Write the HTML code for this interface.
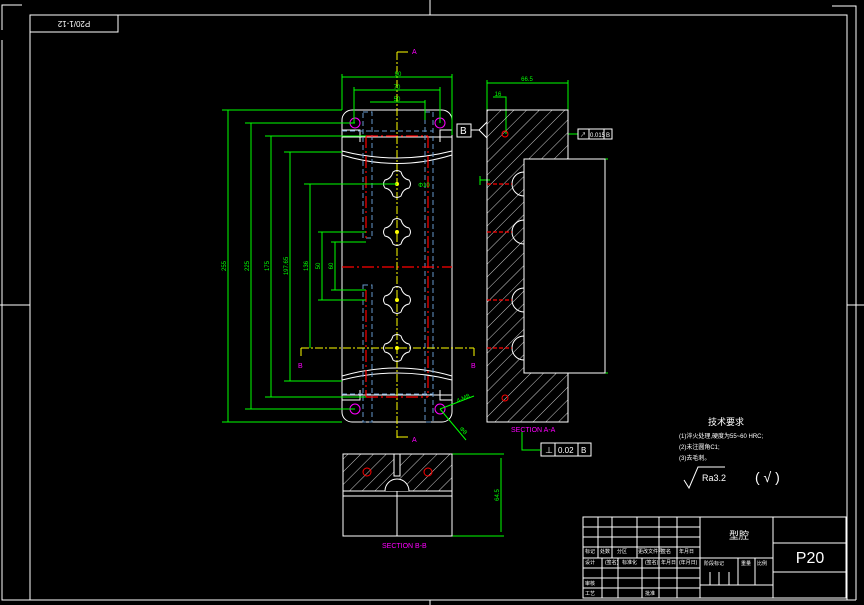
<!DOCTYPE html>
<html><head><meta charset="utf-8"><style>
html,body{margin:0;padding:0;background:#000;}
svg{display:block;}
text{font-family:"Liberation Sans","Noto Sans CJK SC",sans-serif;}
</style></head><body>
<svg width="864" height="605" viewBox="0 0 864 605" xmlns="http://www.w3.org/2000/svg">
<defs>
<pattern id="h" patternUnits="userSpaceOnUse" width="9" height="9" patternTransform="rotate(45)">
<line x1="0" y1="0" x2="0" y2="9" stroke="#fff" stroke-width="0.8"/>
</pattern>
<g id="clover">
<path d="M-4,-12 Q0,-15 4,-12 Q6,-5 12,-4 Q15,0 12,4 Q6,5 4,12 Q0,15 -4,12 Q-6,5 -12,4 Q-15,0 -12,-4 Q-6,-5 -4,-12Z" fill="none" stroke="#fff" stroke-width="1"/>
<circle r="2" fill="#ff0"/>
</g>
</defs>
<rect width="864" height="605" fill="#000"/>
<g stroke="#fff" stroke-width="1" fill="none">
<path d="M2,30 V5 H22"/>
<path d="M832,6 H856 V600"/>
<path d="M2,40 V600 H856"/>
<rect x="30" y="15" width="817" height="585"/>
<rect x="30" y="15" width="88" height="17"/>
<line x1="430" y1="0" x2="430" y2="15"/>
<line x1="430" y1="600" x2="430" y2="605"/>
<line x1="0" y1="305" x2="30" y2="305"/>
<line x1="847" y1="305" x2="864" y2="305"/>
</g>
<text x="74" y="27" font-size="8" fill="#fff" text-anchor="middle" transform="rotate(180 74 24)">P20/1-12</text>

<g stroke="#fff" stroke-width="1" fill="none">
<rect x="342" y="110" width="110" height="312" rx="10"/>
<path d="M342,130 H360 V142 M452,130 H440 V142"/>
<path d="M342,400 H360 V390 M452,400 H440 V390"/>
<path d="M342,137 H452 M342,395 H452"/>
<path d="M342,151 Q397,165 452,151 M342,155 Q397,172 452,155"/>
<path d="M342,380 Q397,366 452,380 M342,376 Q397,360 452,376"/>
</g>
<g stroke="#69c" stroke-width="1" fill="none" stroke-dasharray="5,3">
<rect x="363" y="112" width="9" height="126"/>
<rect x="363" y="285" width="9" height="137"/>
<rect x="425" y="112" width="8" height="310"/>
<line x1="342" y1="131" x2="433" y2="131"/>
<line x1="342" y1="394" x2="433" y2="394"/>
</g>
<g stroke="#f00" stroke-width="1.2" fill="none" stroke-dasharray="12,3,2,3">
<line x1="366" y1="136" x2="366" y2="238"/>
<line x1="366" y1="290" x2="366" y2="397"/>
<line x1="428" y1="136" x2="428" y2="397"/>
<line x1="366" y1="136" x2="428" y2="136"/>
<line x1="366" y1="397" x2="428" y2="397"/>
<line x1="342" y1="267" x2="452" y2="267"/>
</g>
<g stroke="#ff0" stroke-width="1" fill="none" stroke-dasharray="8,2,2,2">
<line x1="397" y1="52" x2="397" y2="440"/>
<line x1="301" y1="348" x2="474" y2="348"/>
</g>
<g stroke="#ff0" stroke-width="1" fill="none">
<path d="M397,52 H408 M397,437 H408 M301,348 V356 M474,348 V356"/>
</g>
<use href="#clover" x="397" y="184"/>
<use href="#clover" x="397" y="232"/>
<use href="#clover" x="397" y="300"/>
<use href="#clover" x="397" y="348"/>
<g stroke="#f0f" fill="none"><circle cx="355" cy="123" r="5"/><circle cx="440" cy="123" r="5"/><circle cx="355" cy="409" r="5"/><circle cx="440" cy="409" r="5"/></g>
<g fill="#f0f" font-size="7">
<text x="412" y="54">A</text><text x="412" y="442">A</text>
<text x="298" y="368">B</text><text x="471" y="368">B</text>
</g>

<g stroke="#0f0" stroke-width="1" fill="none">
<path d="M228,110 V422 M222,110 H342 M222,422 H342"/>
<path d="M251,123 V409 M245,123 H355 M245,409 H355"/>
<path d="M271,136 V397 M265,136 H366 M265,397 H366"/>
<path d="M290,152 V381 M284,152 H342 M284,381 H342"/>
<path d="M310,184 V348 M304,184 H397"/>
<path d="M322,232 V300 M318,232 H366 M318,300 H366"/>
<path d="M335,242 V290 M331,242 H366 M331,290 H366"/>
<path d="M342,77 H452 M342,74 V110 M452,74 V135"/>
<path d="M354,90 H440 M354,87 V123 M440,87 V123"/>
<path d="M370,102 H425 M425,100 V120"/>
<path d="M487,83 H568 M487,80 V110 M568,80 V110"/>
<path d="M493,97 H506 V134"/>
<path d="M605,159 V373 M568,159 H608 M568,373 H608"/>
<path d="M568,134 H578"/>
<path d="M501,458 V532 M452,454 H504 M452,536 H504"/>
<path d="M440,409 L466,440 M440,409 L474,396"/>
<path d="M480,176 V185 M480,180 H490"/>
</g>
<g fill="#0f0" font-size="6" text-anchor="middle">
<text x="398" y="76">90</text><text x="397" y="89">70</text><text x="397" y="101">50</text>
<text x="527" y="81">66.5</text><text x="498" y="96">16</text>
<text x="424" y="187">Φ10</text>
<text transform="translate(226 266) rotate(-90)">255</text>
<text transform="translate(249 266) rotate(-90)">225</text>
<text transform="translate(269 266) rotate(-90)">175</text>
<text transform="translate(288 266) rotate(-90)">197.65</text>
<text transform="translate(308 266) rotate(-90)">136</text>
<text transform="translate(320 266) rotate(-90)">50</text>
<text transform="translate(333 266) rotate(-90)">60</text>
<text transform="translate(603 266) rotate(-90)">175</text>
<text transform="translate(499 495) rotate(-90)">64.5</text>
<text x="464" y="400" transform="rotate(-25 464 400)">4-M8</text>
<text x="462" y="432" transform="rotate(45 462 432)">Φ8</text>
</g>

<path d="M487,110 H568 V159 H524 V373 H568 V422 H487Z" fill="url(#h)" stroke="#fff"/>
<rect x="524" y="159" width="81" height="214" fill="#000" stroke="#fff"/>
<g stroke="#fff" fill="none">
<path d="M524,172 a10,10 0 0 0 0,24 M524,220 a10,10 0 0 0 0,24 M524,288 a10,10 0 0 0 0,24 M524,336 a10,10 0 0 0 0,24"/>
</g>
<g stroke="#f00" stroke-width="1.2" stroke-dasharray="4,2">
<line x1="487" y1="184" x2="512" y2="184"/><line x1="487" y1="232" x2="512" y2="232"/>
<line x1="487" y1="300" x2="512" y2="300"/><line x1="487" y1="348" x2="512" y2="348"/>
</g>
<g stroke="#f00"><circle cx="505" cy="134" r="3" fill="none"/><circle cx="505" cy="398" r="3" fill="none"/></g>
<g stroke="#fff" fill="none">
<rect x="457" y="124" width="14" height="13"/>
<path d="M471,130 H479 L487,122 V138 L479,130"/>
<rect x="578" y="129" width="34" height="10"/>
<line x1="589" y1="129" x2="589" y2="139"/><line x1="604" y1="129" x2="604" y2="139"/>
<rect x="541" y="443" width="50" height="13"/>
<line x1="555" y1="443" x2="555" y2="456"/><line x1="578" y1="443" x2="578" y2="456"/>
</g>
<path d="M522,432 V450 H541" stroke="#0f0" fill="none"/>
<g fill="#fff" font-size="10"><text x="460" y="134">B</text></g>
<g fill="#fff" font-size="6"><text x="580" y="137">↗</text><text x="590" y="137">0.015</text><text x="606" y="137">B</text></g>
<g fill="#fff" font-size="8"><text x="545" y="453">⊥</text><text x="558" y="453">0.02</text><text x="581" y="453">B</text></g>
<text x="511" y="432" fill="#f0f" font-size="7">SECTION A-A</text>

<rect x="343" y="454" width="109" height="37" fill="url(#h)" stroke="#fff"/>
<g stroke="#fff" fill="none">
<rect x="343" y="454" width="109" height="82"/>
<line x1="343" y1="496" x2="452" y2="496"/>
<line x1="397" y1="491" x2="397" y2="536"/>
<rect x="394" y="454" width="6" height="22" fill="#000"/>
<path d="M385,491 a12,12 0 0 1 24,0" fill="#000"/>
</g>
<g stroke="#f00" fill="none"><circle cx="367" cy="472" r="4"/><circle cx="428" cy="472" r="4"/></g>
<text x="382" y="548" fill="#f0f" font-size="7">SECTION B-B</text>

<g fill="#fff">
<text x="708" y="425" font-size="9">技术要求</text>
<text x="679" y="438" font-size="6">(1)淬火处理,硬度为55~60 HRC;</text>
<text x="679" y="449" font-size="6">(2)未注圆角C1;</text>
<text x="679" y="460" font-size="6">(3)去毛刺。</text>
<text x="702" y="481" font-size="9">Ra3.2</text>
<text x="755" y="482" font-size="14">( √ )</text>
</g>
<path d="M684,480 L689,488 L698,467 H725" stroke="#fff" fill="none"/>

<g stroke="#fff" fill="none" stroke-width="1">
<rect x="583" y="517" width="263" height="81"/>
<line x1="700" y1="517" x2="700" y2="598"/><line x1="773" y1="517" x2="773" y2="598"/>
<line x1="583" y1="527" x2="700" y2="527"/><line x1="583" y1="537" x2="700" y2="537"/>
<line x1="583" y1="547" x2="700" y2="547"/><line x1="583" y1="558" x2="773" y2="558"/>
<line x1="583" y1="568" x2="700" y2="568"/><line x1="583" y1="578" x2="700" y2="578"/>
<line x1="583" y1="588" x2="700" y2="588"/>
<line x1="598" y1="517" x2="598" y2="558"/><line x1="612" y1="517" x2="612" y2="558"/>
<line x1="637" y1="517" x2="637" y2="558"/><line x1="659" y1="517" x2="659" y2="598"/>
<line x1="677" y1="517" x2="677" y2="598"/>
<line x1="602" y1="558" x2="602" y2="598"/><line x1="618" y1="558" x2="618" y2="598"/>
<line x1="642" y1="558" x2="642" y2="598"/>
<line x1="700" y1="585" x2="773" y2="585"/>
<line x1="738" y1="558" x2="738" y2="585"/><line x1="755" y1="558" x2="755" y2="585"/>
<line x1="710" y1="572" x2="710" y2="585"/><line x1="719" y1="572" x2="719" y2="585"/>
<line x1="729" y1="572" x2="729" y2="585"/>
<line x1="773" y1="543" x2="846" y2="543"/><line x1="773" y1="572" x2="846" y2="572"/>
</g>
<g fill="#fff" font-size="5">
<text x="585" y="553">标记</text><text x="600" y="553">处数</text><text x="617" y="553">分区</text><text x="638" y="553">更改文件号</text><text x="661" y="553">签名</text><text x="679" y="553">年月日</text>
<text x="585" y="564">设计</text><text x="605" y="564">(签名)</text><text x="622" y="564">标准化</text><text x="645" y="564">(签名)</text><text x="661" y="564">年月日</text><text x="679" y="564">(年月日)</text>
<text x="704" y="565">阶段标记</text><text x="741" y="565">重量</text><text x="757" y="565">比例</text>
<text x="585" y="585">审核</text><text x="585" y="595">工艺</text><text x="645" y="595">批准</text>
</g>
<text x="729" y="539" fill="#fff" font-size="10">型腔</text>
<text x="810" y="563" fill="#fff" font-size="16" text-anchor="middle">P20</text>
</svg>
</body></html>
